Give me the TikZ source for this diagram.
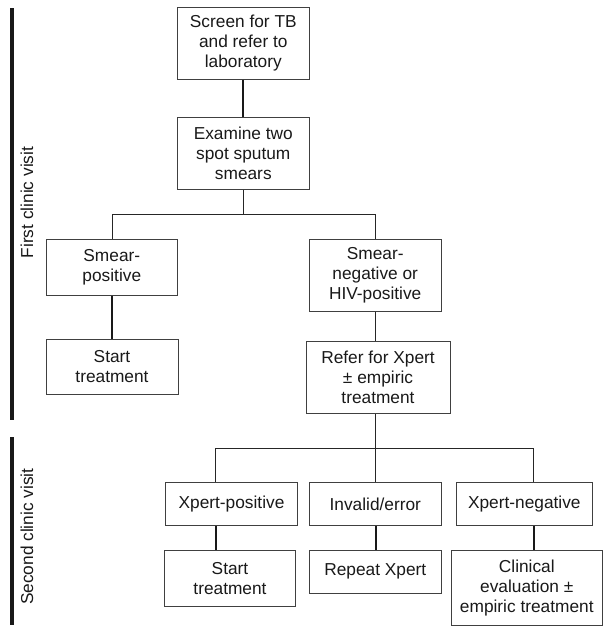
\documentclass[tikz,border=0pt]{standalone}
\usepackage{fontspec}
\setmainfont{Liberation Sans}
\begin{document}
\begin{tikzpicture}[x=1pt,y=-1pt,
  box/.style={draw=black!75, line width=0.9pt, align=center, inner sep=0pt,
    text=black!90, font=\fontsize{17.3}{20}\selectfont},
  thin/.style={draw=black!85, line width=1pt},
  thick/.style={draw=black!90, line width=2pt},
  bar/.style={draw=black!90, line width=4pt},
  lbl/.style={rotate=90, inner sep=0pt, text=black!90, font=\fontsize{17.3}{20}\selectfont}]
\useasboundingbox (0,0) rectangle (604,629);

% boxes
\node[box, minimum width=132pt, minimum height=72pt] (screen) at (243.3,43.3) {Screen for TB\\and refer to\\laboratory};
\node[box, minimum width=132pt, minimum height=72pt] (examine) at (243.3,153.3) {Examine two\\spot sputum\\smears};
\node[box, minimum width=131.7pt, minimum height=56.3pt] (spos) at (111.8,267.2) {Smear-\\positive};
\node[box, minimum width=131.7pt, minimum height=72pt] (sneg) at (375.2,275.1) {Smear-\\negative or\\HIV-positive};
\node[box, minimum width=132pt, minimum height=55.7pt] (start1) at (112,366.8) {Start\\treatment};
\node[box, minimum width=144pt, minimum height=72pt] (refer) at (378,377.7) {Refer for Xpert\\± empiric\\treatment};
\node[box, minimum width=131.6pt, minimum height=43.4pt] (xpos) at (231.5,504) {Xpert-positive};
\node[box, minimum width=132pt, minimum height=43.4pt] (inval) at (375.3,504) {Invalid/error};
\node[box, minimum width=136.7pt, minimum height=43.4pt] (xneg) at (524.3,504) {Xpert-negative};
\node[box, minimum width=131.4pt, minimum height=55.3pt] (start2) at (230,578.3) {Start\\treatment};
\node[box, minimum width=132pt, minimum height=43pt] (repeat) at (375.3,571.5) {Repeat Xpert};
\node[box, minimum width=150.3pt, minimum height=74.3pt] (clin) at (526.8,587.8) {Clinical\\evaluation ±\\empiric treatment};

% side labels
\node[lbl] (lab1) at (27,202.5) {First clinic visit};
\node[lbl] (lab2) at (27,536.7) {Second clinic visit};
\coordinate (bar1t) at (11.5,8);
\coordinate (bar1b) at (11.5,420);
\coordinate (bar2t) at (11.5,437);
\coordinate (bar2b) at (11.5,625);
\draw[bar] (bar1t) -- (bar1b);
\draw[bar] (bar2t) -- (bar2b);

% bus coordinates
\coordinate (b1) at (243.3,214.2);
\coordinate (b1l) at (112,214.2);
\coordinate (b1r) at (375.5,214.2);
\coordinate (b2) at (375.5,448.3);
\coordinate (b2l) at (215.7,448.3);
\coordinate (b2r) at (533.5,448.3);

% connectors
\draw[thick] (screen.south) -- (examine.north);
\draw[thin] (examine.south) -- (b1);
\draw[thin] (b1l) -- (b1r);
\draw[thin] (b1l) -- (spos.north -| b1l);
\draw[thin] (b1r) -- (sneg.north -| b1r);
\draw[thick] (spos.south -| b1l) -- (start1.north -| b1l);
\draw[thin] (sneg.south -| b1r) -- (refer.north -| b1r);
\draw[thin] (refer.south -| b2) -- (b2);
\draw[thin] (b2l) -- (b2r);
\draw[thin] (b2l) -- (xpos.north -| b2l);
\draw[thin] (b2) -- (inval.north -| b2);
\draw[thin] (b2r) -- (xneg.north -| b2r);
\draw[thick] (xpos.south -| b2l) -- (start2.north -| b2l);
\draw[thick] (inval.south -| b2) -- (repeat.north -| b2);
\draw[thick] (xneg.south -| b2r) -- (clin.north -| b2r);
\end{tikzpicture}
\end{document}
